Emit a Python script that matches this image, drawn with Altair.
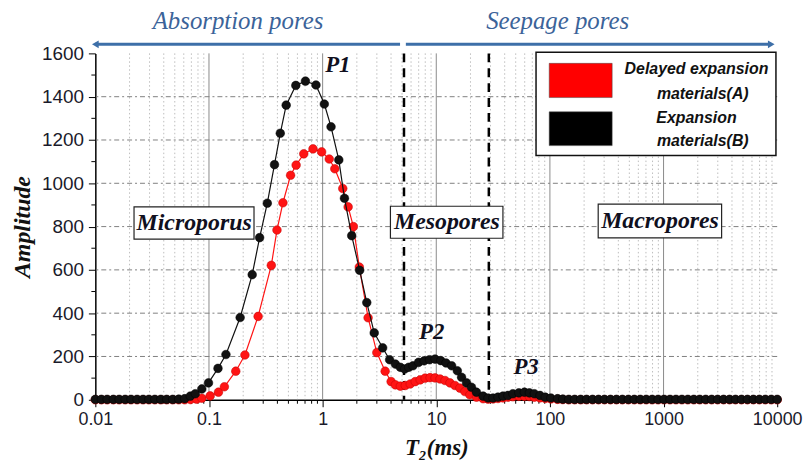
import altair as alt
import pandas as pd

# ---------------- data ----------------
series_names = ["Delayed expansion materials(A)", "Expansion materials(B)"]

# Expansion materials (B) - black
t2_b = [0.0100, 0.0113, 0.0127, 0.0144, 0.0162, 0.0183, 0.0206, 0.0233, 0.0263, 0.0296,
        0.0334, 0.0377, 0.0425, 0.0480, 0.0542, 0.0611,
        0.0685, 0.0758, 0.0865, 0.0990, 0.120, 0.141, 0.188, 0.240, 0.279, 0.326,
        0.377, 0.424, 0.478, 0.581, 0.706, 0.874, 1.035, 1.186, 1.388, 1.556,
        1.803, 2.118, 2.447, 2.845, 3.376, 3.886, 4.367, 4.829, 5.277, 5.717,
        6.233, 6.989, 7.824, 8.722, 9.761, 10.95, 12.18, 13.66, 15.32, 16.70,
        18.47, 20.42, 22.58, 25.84, 28.57, 31.59, 34.93, 38.63, 42.71, 47.23,
        53.29, 59.65, 65.95, 72.93, 81.78, 90.99, 102.0, 116.8,
        129.9, 146.6, 165.3, 186.5, 210.4, 237.4, 267.8, 302.2, 341.1, 384.8,
        434.1, 489.8, 552.6, 623.5, 703.5, 793.6, 895.5, 1010, 1140, 1286,
        1451, 1637, 1847, 2084, 2351, 2653, 2993, 3377, 3809, 4298,
        4849, 5471, 6172, 6964, 7857, 8865, 10000]
amp_b = [2, 2, 2, 2, 2, 2, 2, 2, 2, 2,
         2, 2, 2, 2, 3, 5,
         17, 28, 50, 78, 145, 209, 380, 578, 749, 908,
         1086, 1231, 1361, 1452, 1472, 1454, 1366, 1261, 1108, 931,
         758, 598, 449, 309, 240, 185, 165, 150, 142, 150,
         157, 173, 180, 185, 188, 181, 170, 157, 134, 104,
         78, 58, 35, 17, 8, 8, 12, 17, 20, 28,
         32, 35, 32, 28, 20, 12, 8, 5,
         3, 2, 2, 2, 2, 2, 2, 2, 2, 2,
         2, 2, 2, 2, 2, 2, 2, 2, 2, 2,
         2, 2, 2, 2, 2, 2, 2, 2, 2, 2,
         2, 2, 2, 2, 2, 2, 2]

# Delayed expansion materials (A) - red
t2_a = [0.0100, 0.0113, 0.0127, 0.0144, 0.0162, 0.0183, 0.0206, 0.0233, 0.0263, 0.0296,
        0.0334, 0.0377, 0.0425, 0.0480, 0.0542, 0.0611,
        0.0688, 0.0778, 0.0865, 0.1024, 0.1211, 0.1366, 0.1721, 0.2071, 0.2706, 0.3535,
        0.3965, 0.4474, 0.5224, 0.5845, 0.6824, 0.8228, 0.9802, 1.144, 1.280, 1.504,
        1.677, 1.865, 2.104, 2.512, 2.999, 3.549, 4.006, 4.367, 4.829, 5.339,
        5.904, 6.528, 7.220, 7.984, 8.829, 9.761, 10.80, 11.94, 13.20, 14.60,
        16.14, 17.85, 19.74, 22.58, 25.84, 28.57, 31.59, 34.93, 38.63, 42.71,
        47.23, 53.29, 59.65, 65.95, 72.93, 81.78, 90.99, 102.0, 116.8,
        129.9, 146.6, 165.3, 186.5, 210.4, 237.4, 267.8, 302.2, 341.1, 384.8,
        434.1, 489.8, 552.6, 623.5, 703.5, 793.6, 895.5, 1010, 1140, 1286,
        1451, 1637, 1847, 2084, 2351, 2653, 2993, 3377, 3809, 4298,
        4849, 5471, 6172, 6964, 7857, 8865, 10000]
amp_a = [0, 0, 0, 0, 0, 0, 0, 0, 0, 0,
         0, 0, 0, 0, 0, 0,
         1, 3, 7, 18, 35, 60, 132, 207, 385, 621,
         784, 910, 1037, 1084, 1136, 1159, 1145, 1112, 1067, 976,
         891, 800, 613, 379, 218, 132, 84, 69, 63, 66,
         73, 84, 92, 100, 102, 101, 96, 89, 78, 66,
         54, 38, 23, 12, 5, 3, 4, 6, 9, 12,
         14, 16, 16, 15, 12, 9, 6, 4, 2,
         1, 0, 0, 0, 0, 0, 0, 0, 0, 0,
         0, 0, 0, 0, 0, 0, 0, 0, 0, 0,
         0, 0, 0, 0, 0, 0, 0, 0, 0, 0,
         0, 0, 0, 0, 0, 0, 0]

series_colors = ["#ff1414", "#111111"]
series_strokes = ["#c00000", "#000000"]

# pore-class boundaries (ms)
boundaries = [5.2, 29]

# axis ticks / grid
x_major = [0.01, 0.1, 1, 10, 100, 1000, 10000]
x_major_grid = [0.1, 1, 10, 100, 1000]
x_minor = [m * d for d in [0.01, 0.1, 1, 10, 100, 1000] for m in range(2, 10)]
y_major = list(range(0, 1601, 200))
y_grid = list(range(200, 1401, 200))
y_minor = list(range(100, 1600, 200))

# annotations
region_labels = ["Microporus", "Mesopores", "Macropores"]
region_x = [0.074, 12.4, 931]
region_y = [816, 820, 826]
region_x1 = [0.0219, 3.95, 266]
region_x2 = [0.249, 38.6, 3243]
region_y1 = [891, 894, 904]
region_y2 = [742, 746, 748]

peak_labels = ["P1", "P2", "P3"]
peak_x = [1.36, 9.13, 61.7]
peak_y = [1546, 312, 151]

zone_labels = ["Absorption pores", "Seepage pores"]
zone_x = [0.18, 117]
zone_y = [1748, 1748]
arrow_x1 = [0.01, 5.4]
arrow_x2 = [4.8, 8865]
arrow_y = 1642

legend_lines = [["Delayed expansion", "materials(A)"], ["Expansion", "materials(B)"]]

# ---------------- chart ----------------
W, H = 687, 349
xscale = alt.Scale(type="log", domain=[0.01, 10000], nice=False)
yscale = alt.Scale(domain=[0, 1600], nice=False)

x_axis = alt.Axis(
    values=x_major,
    format="~g",
    labelFont="Liberation Sans", labelFontSize=18, labelColor="#1a1a2a",
    labelFlush=False, labelOverlap=False, labelPadding=4,
    tickColor="black", tickSize=7,
    domainColor="black", domainWidth=1.5,
    grid=False,
    title="T₂(ms)", titleFont="Liberation Serif", titleFontSize=23,
    titleFontStyle="italic", titleFontWeight="bold", titleColor="#111111", titlePadding=8,
)
y_axis = alt.Axis(
    values=y_major,
    format="d",
    labelFont="Liberation Sans", labelFontSize=19, labelColor="#1a1a2a",
    labelFlush=False, labelOverlap=False, labelPadding=5,
    tickColor="black", tickSize=7,
    domainColor="black", domainWidth=1.5,
    grid=False,
    title="Amplitude", titleFont="Liberation Serif", titleFontSize=24,
    titleFontStyle="italic", titleFontWeight="bold", titleColor="#111111", titlePadding=7,
)


# every layer shares the same scale and the same (identical) axis definition
def X(field):
    return alt.X(field, scale=xscale, axis=x_axis)


def Y(field):
    return alt.Y(field, scale=yscale, axis=y_axis)


layers = []

# grid: minor vertical (dotted), major vertical (solid), horizontal (dash-dot)
layers.append(
    alt.Chart(pd.DataFrame({"v": x_minor})).mark_rule(color="#bdbdbd", strokeWidth=1, strokeDash=[1.5, 2.5]).encode(x=X("v:Q"))
)
layers.append(
    alt.Chart(pd.DataFrame({"v": x_major_grid})).mark_rule(color="#8a8a8a", strokeWidth=1).encode(x=X("v:Q"))
)
layers.append(
    alt.Chart(pd.DataFrame({"v": y_grid})).mark_rule(color="#808080", strokeWidth=1, strokeDash=[5, 3, 2, 3]).encode(y=Y("v:Q"))
)

# minor ticks
layers.append(
    alt.Chart(pd.DataFrame({"v": x_minor})).mark_rule(color="black", strokeWidth=1).encode(
        x=X("v:Q"), y=alt.value(H), y2=alt.value(H + 4)
    )
)
layers.append(
    alt.Chart(pd.DataFrame({"v": y_minor})).mark_rule(color="black", strokeWidth=1).encode(
        y=Y("v:Q"), x=alt.value(0), x2=alt.value(-4)
    )
)

# boundaries (dashed)
layers.append(
    alt.Chart(pd.DataFrame({"v": boundaries})).mark_rule(color="black", strokeWidth=2.5, strokeDash=[9, 6]).encode(
        x=X("v:Q")
    )
)

# data series: red first, black on top
for name, t2s, amps, col, sc in [
    (series_names[0], t2_a, amp_a, series_colors[0], series_strokes[0]),
    (series_names[1], t2_b, amp_b, series_colors[1], series_strokes[1]),
]:
    df = pd.DataFrame({"t2": t2s, "amp": amps, "series": name})
    base = alt.Chart(df).encode(x=X("t2:Q"), y=Y("amp:Q"))
    layers.append(base.mark_line(color=col, strokeWidth=1.2))
    layers.append(base.mark_circle(size=76, color=col, opacity=1, stroke=sc, strokeWidth=0.5))

# region boxes
reg = pd.DataFrame({"label": region_labels, "x": region_x, "y": region_y,
                    "x1": region_x1, "x2": region_x2, "y1": region_y1, "y2": region_y2})
layers.append(
    alt.Chart(reg).mark_rect(fill="white", stroke="#222222", strokeWidth=1.2).encode(
        x=X("x1:Q"), x2="x2:Q", y=Y("y1:Q"), y2="y2:Q",
    )
)
layers.append(
    alt.Chart(reg).mark_text(font="Liberation Serif", fontSize=24, fontStyle="italic",
                             fontWeight="bold", color="#10101e", baseline="middle").encode(
        x=X("x:Q"), y=Y("y:Q"), text="label:N",
    )
)

# peak labels
pk = pd.DataFrame({"label": peak_labels, "x": peak_x, "y": peak_y})
layers.append(
    alt.Chart(pk).mark_text(font="Liberation Serif", fontSize=23, fontStyle="italic",
                            fontWeight="bold", color="#10101e", baseline="middle").encode(
        x=X("x:Q"), y=Y("y:Q"), text="label:N",
    )
)

# zone arrows and titles
arrow_col = "#3d6fa8"
arr = pd.DataFrame({"x1": arrow_x1, "x2": arrow_x2, "y": [arrow_y, arrow_y]})
layers.append(
    alt.Chart(arr).mark_rule(color=arrow_col, strokeWidth=3).encode(
        x=X("x1:Q"), x2="x2:Q", y=Y("y:Q"),
    )
)
for xv, shp in [(arrow_x1[0], "triangle-left"), (arrow_x2[1], "triangle-right")]:
    layers.append(
        alt.Chart(pd.DataFrame({"x": [xv], "y": [arrow_y]})).mark_point(
            shape=shp, filled=True, size=60, color=arrow_col, opacity=1).encode(
            x=X("x:Q"), y=Y("y:Q"),
        )
    )
zn = pd.DataFrame({"label": zone_labels, "x": zone_x, "y": zone_y})
layers.append(
    alt.Chart(zn).mark_text(font="Liberation Serif", fontSize=25, fontStyle="italic",
                            color="#3b6399", baseline="middle").encode(
        x=X("x:Q"), y=Y("y:Q"), text="label:N",
    )
)

# manual legend
lg_box = pd.DataFrame({"x1": [75.5], "x2": [9750], "y1": [1605], "y2": [1128]})
layers.append(
    alt.Chart(lg_box).mark_rect(fill="white", stroke="#111111", strokeWidth=1.5).encode(
        x=X("x1:Q"), x2="x2:Q", y=Y("y1:Q"), y2="y2:Q",
    )
)
lg_sw = pd.DataFrame({"series": series_names, "x1": [98.6, 98.6], "x2": [353, 353],
                      "y1": [1554, 1330], "y2": [1396, 1174]})
layers.append(
    alt.Chart(lg_sw).mark_rect(stroke="#444444", strokeWidth=0.5).encode(
        x=X("x1:Q"), x2="x2:Q", y=Y("y1:Q"), y2="y2:Q",
        color=alt.Color("series:N", scale=alt.Scale(domain=series_names, range=["#ff0000", "#000000"]), legend=None),
    )
)
lg_txt = pd.DataFrame({
    "text": [legend_lines[0][0], legend_lines[0][1], legend_lines[1][0], legend_lines[1][1]],
    "x": [1950, 2213, 1950, 2213],
    "y": [1527, 1413, 1301, 1196],
})
layers.append(
    alt.Chart(lg_txt).mark_text(font="Liberation Sans", fontSize=16, fontStyle="italic",
                                fontWeight="bold", color="#111111", baseline="middle").encode(
        x=X("x:Q"), y=Y("y:Q"), text="text:N",
    )
)

chart = alt.layer(*layers).properties(
    width=W, height=H,
    autosize=alt.AutoSizeParams(type="none"),
    padding={"left": 88, "top": 44, "right": 26, "bottom": 66},
).configure(background="white").configure_view(strokeWidth=0)

chart.save("out.html", embed_options={"renderer": "svg", "actions": False})
